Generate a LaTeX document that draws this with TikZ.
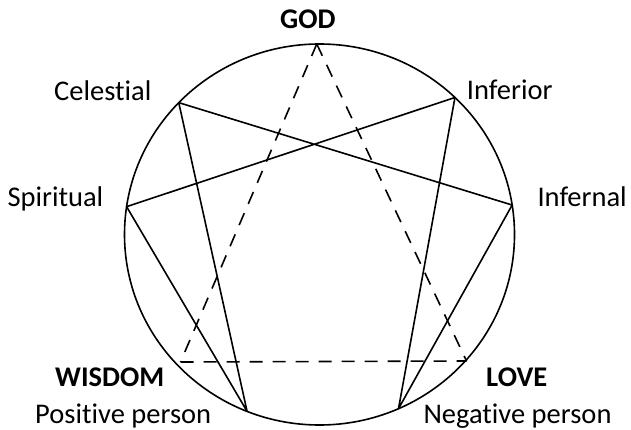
\documentclass[tikz,border=0pt]{standalone}
\usepackage{fontspec}
\setmainfont{Carlito}[Ligatures={NoCommon,NoRare,NoContextual}]
\begin{document}
\begin{tikzpicture}[x=1pt,y=-1pt,
  lbl/.style={anchor=base west,inner sep=0pt,font=\fontsize{28.5}{34}\selectfont},
  blbl/.style={lbl,font=\fontsize{28.5}{34}\selectfont\bfseries},
  solidline/.style={line width=1.6pt,line cap=round,line join=round},
  dashline/.style={line width=1.6pt,dash pattern=on 13pt off 10pt}]
\useasboundingbox (0,0) rectangle (631,430);
\def\cx{319.5}\def\cy{234.5}\def\rx{195}\def\ry{190.5}
\draw[line width=1.6pt] (\cx,\cy) ellipse [x radius=195pt, y radius=190.5pt];
\coordinate (top) at ({\cx+\rx*cos(90.8)},{\cy-\ry*sin(90.8)});
\coordinate (cel) at ({\cx+\rx*cos(136.2)},{\cy-\ry*sin(136.2)});
\coordinate (inf) at ({\cx+\rx*cos(46.0)},{\cy-\ry*sin(46.0)});
\coordinate (spi) at ({\cx+\rx*cos(171.6)},{\cy-\ry*sin(171.6)});
\coordinate (ifl) at ({\cx+\rx*cos(8.9)},{\cy-\ry*sin(8.9)});
\coordinate (bl) at ({\cx+\rx*cos(-111.8)},{\cy-\ry*sin(-111.8)});
\coordinate (br) at ({\cx+\rx*cos(-66.1)},{\cy-\ry*sin(-66.1)});
\coordinate (wis) at (180.5,362);
\coordinate (lov) at (466.5,361);
% solid lines
\draw[solidline] (cel) -- (ifl) -- (br) -- (inf) -- (spi) -- (bl) -- (cel);
% dashed triangle
\draw[dashline] (top) -- (wis);
\draw[dashline] (top) -- (lov);
\draw[dashline] (wis) -- (lov);
% labels
\node[blbl] (god) at (280,28.3) {GOD};
\node[lbl] (celL) at (54,100.7) {Celestial};
\node[lbl] (infL) at (466.7,100) {Inferior};
\node[lbl] (spiL) at (7.3,206.5) {Spiritual};
\node[lbl] (iflL) at (537.3,206.5) {Infernal};
\node[blbl] (wisL) at (55,386.7) {WISDOM};
\node[lbl] (posL) at (35,423.3) {Positive person};
\node[blbl] (lovL) at (486,386.7) {LOVE};
\node[lbl] (negL) at (423.3,423.3) {Negative person};
\end{tikzpicture}
\end{document}
